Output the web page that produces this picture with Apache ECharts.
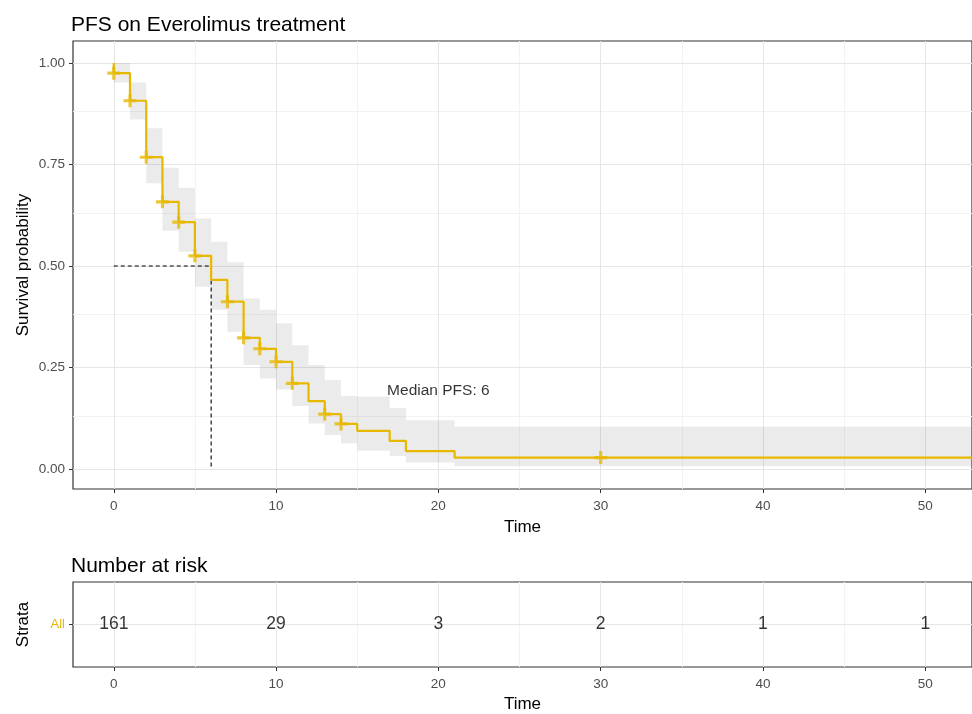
<!DOCTYPE html>
<html>
<head>
<meta charset="utf-8">
<script src="https://cdn.jsdelivr.net/npm/echarts@6/dist/echarts.min.js"></script>
<style>html,body{margin:0;padding:0;background:#fff;}#c{width:972px;height:714px;}</style>
</head>
<body>
<div id="c"></div>
<script>
// ---- data ----
const stepTimes = [0, 0, 1, 2, 3, 4, 5, 6, 7, 8, 9, 10, 11, 12, 13, 14, 15, 17, 18, 21];
const stepSurv  = [1, 0.975, 0.907, 0.768, 0.658, 0.608, 0.525, 0.466, 0.412, 0.323, 0.296, 0.264, 0.211, 0.167, 0.135, 0.111, 0.094, 0.069, 0.044, 0.028];
const lastFollowUp = 52.9;
const ciTimes = [0, 1, 2, 3, 4, 5, 6, 7, 8, 9, 10, 11, 12, 13, 14, 15, 17, 18, 21];
const ciLower = [0.952, 0.861, 0.704, 0.587, 0.535, 0.449, 0.392, 0.338, 0.256, 0.223, 0.196, 0.155, 0.112, 0.084, 0.063, 0.045, 0.032, 0.016, 0.007];
const ciUpper = [1.0, 0.952, 0.839, 0.742, 0.693, 0.617, 0.560, 0.509, 0.420, 0.392, 0.359, 0.305, 0.256, 0.219, 0.180, 0.178, 0.150, 0.120, 0.104];
const censorTimes = [0, 1, 2, 3, 4, 5, 7, 8, 9, 10, 11, 13, 14, 30];
const censorSurv  = [0.975, 0.907, 0.768, 0.658, 0.608, 0.525, 0.412, 0.323, 0.296, 0.264, 0.211, 0.135, 0.111, 0.028];
const medianTime = 6;
const medianLabel = 'Median PFS: 6';
const riskTimes  = [0, 10, 20, 30, 40, 50];
const riskCounts = [161, 29, 3, 2, 1, 1];
const xTicks = [0, 10, 20, 30, 40, 50];
const xMinor = [5, 15, 25, 35, 45];
const yTicks = [0, 0.25, 0.5, 0.75, 1];
const yMinor = [0.125, 0.375, 0.625, 0.875];
const strata = 'All';

// ---- build ----
const GOLD = '#E7B800';
const FONT = "'Liberation Sans', Arial, sans-serif";
const curveData = stepTimes.map((t, i) => [t, stepSurv[i]]);
curveData.push([lastFollowUp, stepSurv[stepSurv.length - 1]]);
const bandData = ciTimes.map((t, i) => [t, i + 1 < ciTimes.length ? ciTimes[i + 1] : lastFollowUp, ciLower[i], ciUpper[i]]);
const censorData = censorTimes.map((t, i) => [t, censorSurv[i]]);
const riskData = riskTimes.map((t, i) => [t, 1, riskCounts[i]]);

function gridLines(xs, ys, color) {
  return [].concat(xs.map(v => ({ xAxis: v, lineStyle: { color } })), ys.map(v => ({ yAxis: v, lineStyle: { color } })));
}
const plusPath = 'path://M3.8,0H6.2V3.8H10V6.2H6.2V10H3.8V6.2H0V3.8H3.8Z';

const chart = echarts.init(document.getElementById('c'), null, { renderer: 'canvas' });
const axisTitle = { fontSize: 17, color: '#000', fontFamily: FONT };
const tickLabel = { color: '#4D4D4D', fontSize: 13.5, fontFamily: FONT };
const noLine = { show: false, onZero: false };

chart.setOption({
  animation: false,
  backgroundColor: '#fff',
  textStyle: { fontFamily: FONT },
  title: [
    { text: 'PFS on Everolimus treatment', left: 66, top: 10, textStyle: { fontSize: 21, fontWeight: 'normal', color: '#000', fontFamily: FONT } },
    { text: 'Number at risk', left: 66, top: 551, textStyle: { fontSize: 21, fontWeight: 'normal', color: '#000', fontFamily: FONT } }
  ],
  grid: [
    { left: 73, top: 41, right: -5, height: 448, show: true, borderColor: '#333', borderWidth: 1.2, backgroundColor: 'transparent' },
    { left: 73, top: 582, right: -5, height: 86, show: true, borderColor: '#333', borderWidth: 1.2, backgroundColor: 'transparent' }
  ],
  xAxis: [
    { type: 'value', gridIndex: 0, min: -2.512, max: 52.88, name: 'Time', nameLocation: 'middle', nameGap: 30, nameTextStyle: axisTitle,
      axisLine: noLine, splitLine: { show: false },
      axisTick: { show: true, length: 4, lineStyle: { color: '#333' }, customValues: xTicks },
      axisLabel: Object.assign({ margin: 10, customValues: xTicks }, tickLabel) },
    { type: 'value', gridIndex: 1, min: -2.512, max: 52.88, name: 'Time', nameLocation: 'middle', nameGap: 29, nameTextStyle: axisTitle,
      axisLine: noLine, splitLine: { show: false },
      axisTick: { show: true, length: 4, lineStyle: { color: '#333' }, customValues: xTicks },
      axisLabel: Object.assign({ margin: 10, customValues: xTicks }, tickLabel) }
  ],
  yAxis: [
    { type: 'value', gridIndex: 0, min: -0.0493, max: 1.0542, name: 'Survival probability', nameLocation: 'middle', nameGap: 41, nameMoveOverlap: false, nameTextStyle: axisTitle,
      axisLine: noLine, splitLine: { show: false },
      axisTick: { show: true, length: 4, lineStyle: { color: '#333' }, customValues: yTicks },
      axisLabel: Object.assign({ margin: 8, customValues: yTicks, formatter: v => v.toFixed(2) }, tickLabel) },
    { type: 'value', gridIndex: 1, min: 0, max: 2, name: 'Strata', nameLocation: 'middle', nameGap: 41, nameMoveOverlap: false, nameTextStyle: axisTitle,
      axisLine: noLine, splitLine: { show: false },
      axisTick: { show: true, length: 4, lineStyle: { color: '#333' }, customValues: [1] },
      axisLabel: { margin: 8, customValues: [1], formatter: () => strata, color: GOLD, fontSize: 13, fontFamily: FONT } }
  ],
  series: [
    { type: 'line', xAxisIndex: 0, yAxisIndex: 0, data: [], silent: true, z: 0,
      markLine: { silent: true, z: 0, symbol: 'none', animation: false, label: { show: false },
        lineStyle: { type: 'solid', width: 1 },
        data: gridLines(xMinor, yMinor, '#F2F2F2').concat(gridLines(xTicks, yTicks, '#E6E6E6')) } },
    { type: 'line', xAxisIndex: 1, yAxisIndex: 1, data: [], silent: true, z: 0,
      markLine: { silent: true, z: 0, symbol: 'none', animation: false, label: { show: false },
        lineStyle: { type: 'solid', width: 1 },
        data: gridLines(xMinor, [], '#F2F2F2').concat(gridLines(xTicks, [1], '#E6E6E6')) } },
    { type: 'custom', xAxisIndex: 0, yAxisIndex: 0, z: 1, silent: true, data: bandData,
      renderItem: function (params, api) {
        const p0 = api.coord([api.value(0), api.value(3)]);
        const p1 = api.coord([api.value(1), api.value(2)]);
        const shape = echarts.graphic.clipRectByRect(
          { x: p0[0], y: p0[1], width: p1[0] - p0[0], height: p1[1] - p0[1] },
          { x: params.coordSys.x, y: params.coordSys.y, width: params.coordSys.width, height: params.coordSys.height });
        return shape && { type: 'rect', shape: shape, style: { fill: 'rgba(120,120,120,0.15)' } };
      } },
    { type: 'line', xAxisIndex: 0, yAxisIndex: 0, z: 2, data: [[0, 0.5], [medianTime, 0.5], [medianTime, 0]], symbol: 'none', silent: true,
      lineStyle: { color: '#000', width: 1.1, type: [4, 3] } },
    { type: 'line', xAxisIndex: 0, yAxisIndex: 0, z: 3, data: curveData, step: 'end', symbol: 'none', silent: true,
      lineStyle: { color: GOLD, width: 2.2 } },
    { type: 'scatter', xAxisIndex: 0, yAxisIndex: 0, z: 4, data: censorData, symbol: plusPath, symbolSize: 13, silent: true,
      itemStyle: { color: GOLD } },
    { type: 'scatter', xAxisIndex: 0, yAxisIndex: 0, z: 4, data: [[20, 0.193]], symbolSize: 1, silent: true,
      itemStyle: { color: 'transparent' },
      label: { show: true, position: 'inside', formatter: medianLabel, color: '#000', fontSize: 15.5, fontFamily: FONT } },
    { type: 'scatter', xAxisIndex: 1, yAxisIndex: 1, z: 4, data: riskData, symbolSize: 1, silent: true,
      itemStyle: { color: 'transparent' },
      label: { show: true, position: 'inside', formatter: p => String(p.value[2]), color: '#000', fontSize: 17.5, fontFamily: FONT } }
  ]
});
</script>
</body>
</html>
